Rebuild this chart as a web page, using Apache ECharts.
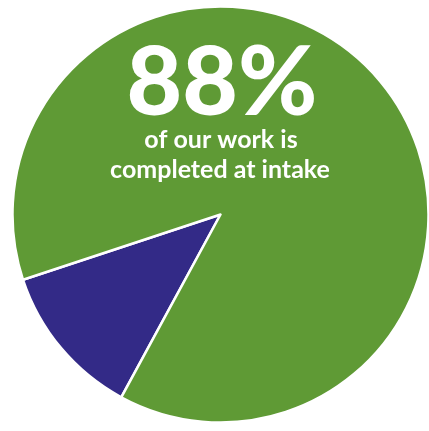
<!DOCTYPE html>
<html><head><meta charset="utf-8">
<script src="https://cdn.jsdelivr.net/npm/echarts@6/dist/echarts.min.js"></script>
<style>html,body{margin:0;padding:0;background:#fff}#c{width:429px;height:431px}</style>
</head><body><div id="c"></div>
<script>
const categories = ['Other work', 'Completed at intake'];
const values = [12, 88];
const colors = ['#332a87', '#5f9a35'];
const headline = '88%';
const subLines = ['of our work is', 'completed at intake'];

const chart = echarts.init(document.getElementById('c'), null, {renderer: 'canvas'});
chart.setOption({
  animation: false,
  backgroundColor: '#ffffff',
  series: [{
    type: 'pie',
    center: [220.5, 214.5],
    radius: [0, 208],
    startAngle: 241.5,
    clockwise: true,
    label: {show: false},
    labelLine: {show: false},
    itemStyle: {borderColor: '#ffffff', borderWidth: 2.5},
    emphasis: {disabled: true},
    data: categories.map((n, i) => ({name: n, value: values[i], itemStyle: {color: colors[i]}}))
  }],
  graphic: [
    {type: 'text', z: 100, style: {text: headline, x: 222, y: 84, fill: '#fff', font: '900 96px Lato', textAlign: 'center', textVerticalAlign: 'middle'}},
    {type: 'text', z: 100, style: {text: subLines[0], x: 221, y: 140, fill: '#fff', font: 'bold 25px Lato', textAlign: 'center', textVerticalAlign: 'middle'}},
    {type: 'text', z: 100, style: {text: subLines[1], x: 220, y: 170, fill: '#fff', font: 'bold 25px Lato', textAlign: 'center', textVerticalAlign: 'middle'}}
  ]
});
</script></body></html>
